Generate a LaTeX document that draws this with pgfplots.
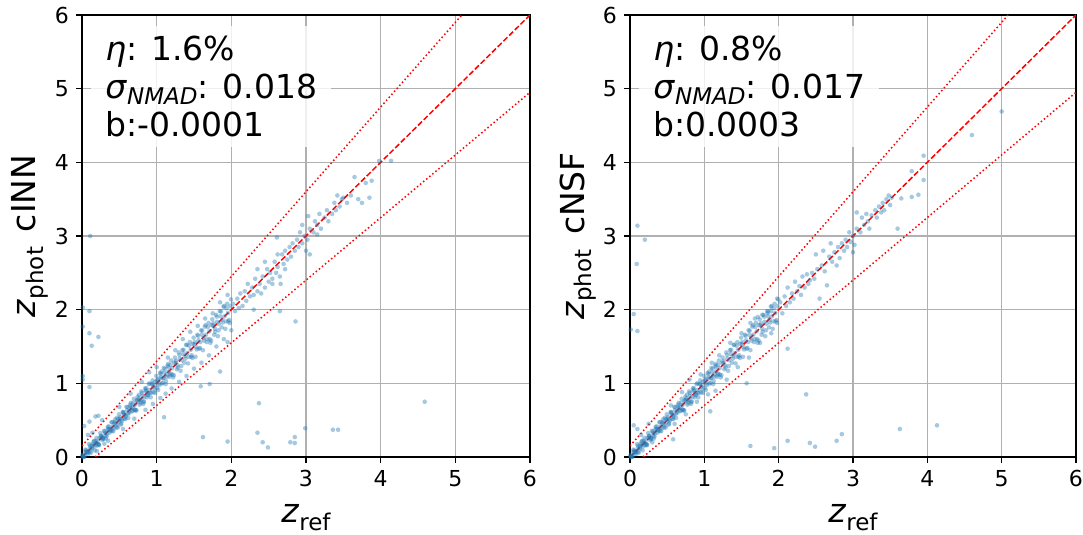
\documentclass[border=0pt]{standalone}
\usepackage{fontspec}
\setmainfont{DejaVu Sans}
\usepackage{pgfplots}
\usepackage{pgfplotstable}
\pgfplotsset{compat=1.18}

\definecolor{pts}{HTML}{1F77B4}
\definecolor{gridc}{HTML}{B0B0B0}

% ---------- shared dense core (both panels) ----------
\pgfplotstableread{
x y
0.01 0.03
0.035 0.005
0.06 0.07
0.085 0.075
0.11 0.155
0.135 0.11
0.16 0.16
0.185 0.22
0.21 0.16
0.235 0.26
0.26 0.285
0.285 0.245
0.31 0.325
0.335 0.32
0.36 0.415
0.385 0.355
0.41 0.41
0.435 0.475
0.46 0.40
0.485 0.515
0.51 0.54
0.535 0.49
0.56 0.575
0.585 0.57
0.61 0.675
0.635 0.60
0.66 0.66
0.685 0.735
0.71 0.64
0.735 0.77
0.76 0.795
0.785 0.73
0.81 0.83
0.835 0.815
0.86 0.935
0.885 0.845
0.91 0.91
0.935 0.99
0.96 0.88
0.985 1.025
1.01 1.05
1.035 0.975
1.06 1.08
1.085 1.065
1.11 1.195
1.135 1.09
1.16 1.16
1.185 1.25
1.21 1.12
1.235 1.28
1.26 1.305
1.285 1.215
1.31 1.335
1.335 1.315
1.36 1.455
1.385 1.335
1.41 1.41
1.435 1.51
1.46 1.36
1.485 1.535
1.51 1.56
1.535 1.46
1.56 1.585
1.585 1.56
1.61 1.715
1.635 1.58
1.66 1.66
1.685 1.765
1.71 1.60
1.735 1.79
1.76 1.815
1.785 1.70
1.81 1.835
1.835 1.81
1.86 1.975
1.885 1.825
1.91 1.91
1.935 2.02
1.96 1.84
1.985 2.045
}\coreA

\pgfplotstableread{
x y
0.02 0.00
0.045 0.10
0.07 0.055
0.095 0.175
0.12 0.06
0.145 0.18
0.17 0.09
0.195 0.26
0.22 0.175
0.245 0.325
0.27 0.23
0.295 0.355
0.32 0.25
0.345 0.41
0.37 0.33
0.395 0.47
0.42 0.35
0.445 0.51
0.47 0.43
0.495 0.58
0.52 0.44
0.545 0.61
0.57 0.52
0.595 0.68
0.62 0.53
0.645 0.71
0.67 0.62
0.695 0.79
0.72 0.63
0.745 0.82
0.77 0.71
0.795 0.89
0.82 0.72
0.845 0.93
0.87 0.81
0.895 0.99
0.92 0.81
0.945 1.04
0.97 0.92
0.995 1.10
1.02 0.91
1.045 1.14
1.07 1.00
1.095 1.21
1.12 0.99
1.145 1.24
1.17 1.09
1.195 1.31
1.22 1.08
1.245 1.35
1.27 1.19
1.295 1.42
1.32 1.17
1.345 1.45
1.37 1.28
1.395 1.52
1.42 1.27
1.445 1.56
1.47 1.38
1.495 1.62
1.52 1.36
1.545 1.66
1.57 1.47
1.595 1.72
1.62 1.45
1.645 1.77
1.67 1.56
1.695 1.82
1.72 1.55
1.745 1.87
1.77 1.66
1.795 1.93
1.82 1.64
1.845 1.98
1.87 1.76
1.895 2.04
1.92 1.74
1.945 2.08
1.97 1.86
1.995 2.14
}\coreB

\pgfplotstableread{
x y
0.005 0.015
0.03 0.015
0.055 0.09
0.08 0.04
0.105 0.125
0.13 0.125
0.155 0.21
0.18 0.145
0.205 0.205
0.23 0.16
0.255 0.27
0.28 0.26
0.305 0.35
0.33 0.28
0.355 0.38
0.38 0.37
0.405 0.475
0.43 0.39
0.455 0.455
0.48 0.40
0.505 0.52
0.53 0.51
0.555 0.61
0.58 0.515
0.605 0.635
0.63 0.62
0.655 0.735
0.68 0.63
0.705 0.705
0.73 0.635
0.755 0.775
0.78 0.755
0.805 0.87
0.83 0.755
0.855 0.89
0.88 0.87
0.905 1.00
0.93 0.87
0.955 0.955
0.98 0.87
1.005 1.025
1.03 1.00
1.055 1.125
1.08 1.00
1.105 1.145
1.13 1.12
1.155 1.265
1.18 1.115
1.205 1.205
1.23 1.11
1.255 1.28
1.28 1.245
1.305 1.385
1.33 1.235
1.355 1.40
1.38 1.37
1.405 1.525
1.43 1.36
1.455 1.455
1.48 1.345
1.505 1.53
1.53 1.49
1.555 1.645
1.58 1.48
1.605 1.66
1.63 1.615
1.655 1.79
1.68 1.60
1.705 1.705
1.73 1.58
1.755 1.785
1.78 1.74
1.805 1.905
1.83 1.72
1.855 1.91
1.88 1.865
1.905 2.05
1.93 1.84
1.955 1.955
1.98 1.82
}\coreC

\pgfplotstableread{
x y
0.015 0.00
0.045 0.07
0.075 0.075
0.105 0.065
0.135 0.15
0.165 0.22
0.195 0.185
0.225 0.17
0.255 0.29
0.285 0.25
0.315 0.29
0.345 0.38
0.375 0.375
0.405 0.355
0.435 0.455
0.465 0.53
0.495 0.48
0.525 0.455
0.555 0.60
0.585 0.545
0.615 0.585
0.645 0.685
0.675 0.675
0.705 0.645
0.735 0.76
0.765 0.845
0.795 0.775
0.825 0.745
0.855 0.91
0.885 0.84
0.915 0.875
0.945 0.995
0.975 0.975
1.005 0.935
1.035 1.065
1.065 1.16
1.095 1.075
1.125 1.03
1.155 1.22
1.185 1.13
}\coreD

% ---------- cINN (left) ----------
\pgfplotstableread{
x y
0.03 0.42
0.10 0.48
0.18 0.55
0.22 0.56
0.27 0.50
0.08 0.30
0.14 0.33
0.30 0.18
0.35 0.22
0.20 0.08
0.50 0.68
0.55 0.38
0.65 0.86
0.70 0.52
0.80 1.02
0.85 0.64
0.90 1.15
0.95 0.72
1.00 1.22
1.05 0.80
1.12 0.86
1.15 1.35
1.20 0.93
1.25 1.45
1.30 1.02
1.35 1.60
1.40 1.10
1.45 1.70
1.50 1.20
1.55 1.78
1.60 1.28
1.65 1.88
1.70 1.38
1.75 1.95
1.80 1.50
1.85 2.10
1.90 1.60
1.95 2.20
2.00 1.72
}\wideL

\pgfplotstableread{
x y
2.02 2.08
2.05 1.98
2.08 2.15
2.10 2.02
2.12 2.22
2.15 2.05
2.18 2.25
2.20 2.12
2.22 2.35
2.25 2.18
2.28 2.30
2.30 2.20
2.32 2.42
2.35 2.25
2.38 2.35
2.40 2.22
2.42 2.45
2.45 2.30
2.48 2.55
2.50 2.38
2.52 2.50
2.55 2.42
2.58 2.65
2.60 2.50
2.62 2.58
2.65 2.45
2.68 2.75
2.70 2.62
2.72 2.80
2.75 2.68
2.78 2.85
2.80 2.72
2.82 2.90
2.85 2.80
2.88 2.95
2.90 2.85
2.92 3.05
2.95 2.90
2.98 3.00
3.00 2.80
3.02 2.95
3.05 3.10
3.10 3.05
3.12 3.20
3.15 3.15
3.18 3.30
3.20 3.10
3.25 3.25
3.28 3.35
3.30 3.20
3.35 3.30
3.38 3.45
3.40 3.35
3.42 3.55
3.45 3.40
3.48 3.50
3.50 3.52
3.55 3.45
3.60 3.55
3.65 3.80
3.70 3.50
3.75 3.45
3.80 3.72
3.85 3.52
3.88 3.75
3.98 4.02
4.14 4.02
2.35 2.55
2.45 2.65
2.55 2.35
2.62 2.75
2.66 2.35
2.72 2.55
2.95 3.15
3.05 2.75
3.15 3.02
}\highL

\pgfplotstableread{
x y
0.11 3.00
0.01 2.03
0.10 1.98
0.01 1.77
0.10 1.68
0.22 1.63
0.13 1.51
0.01 1.10
0.01 1.05
0.10 0.95
2.37 0.73
1.62 0.27
1.95 0.21
2.35 0.33
2.42 0.20
2.49 0.13
2.79 0.20
2.85 0.27
2.85 0.19
2.99 0.39
3.36 0.37
3.43 0.37
4.59 0.75
2.86 1.84
2.61 2.98
3.03 3.27
1.10 0.54
1.59 0.96
1.71 0.99
1.85 1.16
1.95 1.56
2.30 2.00
2.65 1.98
}\outL

% ---------- cNSF (right) ----------
\pgfplotstableread{
x y
0.05 0.43
0.10 0.38
0.15 0.30
0.25 0.45
0.30 0.20
0.55 0.70
0.60 0.45
0.70 0.88
0.75 0.58
0.80 1.05
0.90 0.75
0.95 1.12
1.05 0.85
1.10 1.28
1.15 0.90
1.20 1.38
1.30 1.05
1.35 1.55
1.45 1.22
1.50 1.68
1.60 1.35
1.62 1.82
1.68 1.88
1.72 1.90
1.78 1.93
1.85 1.95
1.90 1.98
1.75 1.55
1.90 1.68
1.98 2.15
}\wideR

\pgfplotstableread{
x y
2.02 2.10
2.05 1.95
2.08 2.18
2.10 2.05
2.12 2.30
2.15 2.10
2.18 2.22
2.20 2.15
2.22 2.38
2.25 2.25
2.28 2.32
2.30 2.20
2.32 2.45
2.35 2.30
2.38 2.48
2.40 2.35
2.42 2.40
2.45 2.50
2.48 2.42
2.50 2.75
2.52 2.55
2.55 2.15
2.58 2.60
2.60 2.80
2.62 2.52
2.65 2.33
2.68 2.72
2.70 2.90
2.72 2.65
2.75 2.78
2.78 2.60
2.80 2.85
2.82 2.70
2.85 2.90
2.88 2.80
2.90 2.95
2.92 2.85
2.95 3.05
2.97 2.92
3.00 2.78
3.00 3.00
3.02 2.88
3.05 3.10
3.10 3.05
3.12 3.25
3.15 3.15
3.18 3.30
3.20 3.20
3.22 3.10
3.25 3.28
3.30 3.35
3.32 3.25
3.35 3.40
3.38 3.32
3.40 3.45
3.42 3.35
3.45 3.50
3.48 3.55
3.50 3.42
3.52 3.52
3.60 3.10
}\highR

\pgfplotstableread{
x y
0.10 3.14
0.20 2.95
0.09 2.62
0.05 1.94
0.01 1.73
0.10 1.71
2.37 0.85
1.62 0.15
1.94 0.12
2.12 0.22
2.42 0.19
2.49 0.14
2.78 0.22
2.85 0.31
3.63 0.38
4.13 0.43
4.60 4.37
5.00 4.69
3.95 4.09
3.95 3.76
3.79 3.88
3.79 3.53
3.88 3.56
3.65 3.51
2.12 1.47
1.08 0.62
1.57 1.00
0.58 0.24
3.05 3.32
}\outR

\newcommand{\bigfont}{\fontsize{16.5}{19}\selectfont}
\newcommand{\subfont}{\fontsize{11.5}{12}\selectfont}

\pgfplotsset{
  panel/.style={
    scale only axis, height=221pt,
    xmin=0, xmax=6, ymin=0, ymax=6,
    xtick={0,1,2,3,4,5,6}, ytick={0,1,2,3,4,5,6},
    grid=major, grid style={gridc, line width=0.7pt},
    tick align=outside, tick pos=left,
    major tick length=3pt,
    tick style={black, line width=0.6pt},
    axis line style={black, line width=0.8pt},
    ticklabel style={font=\fontsize{11}{13}\selectfont},
    /pgf/number format/assume math mode=true,
    every axis y label/.style={at={(axis description cs:-0.116,0.5)}, rotate=90, anchor=center, font=\bigfont},
    every axis x label/.style={at={(axis description cs:0.5,0)}, yshift=-33pt, anchor=base, font=\bigfont},
    xlabel={\textit{z}\raisebox{-3.7pt}{\subfont ref}},
  },
  pts/.style={only marks, mark=*, mark size=1.15pt,
    mark options={fill=pts, fill opacity=0.4, draw opacity=0}},
  diag/.style={red, line width=0.75pt, dash pattern=on 2.8pt off 1.2pt},
  dots/.style={red, line width=0.75pt, dash pattern=on 0.75pt off 1.25pt},
}

\begin{document}
\begin{tikzpicture}
\useasboundingbox (0,0) rectangle (541.5pt,267.5pt);

\begin{axis}[panel, width=224pt, at={(41pt,39pt)}, anchor=south west,
  ylabel={\textit{z}\raisebox{-3.7pt}{\subfont phot}\hspace{0.45em}cINN}]
  \addplot[pts] table {\coreA};
  \addplot[pts] table {\coreB};
  \addplot[pts] table {\coreC};
  \addplot[pts] table {\coreD};
  \addplot[pts] table {\wideL};
  \addplot[pts] table {\highL};
  \addplot[pts] table {\outL};
  \addplot[diag] coordinates {(0,0) (6,6)};
  \addplot[dots] coordinates {(0,0.15) (5.087,6)};
  \addplot[dots] coordinates {(0.1765,0) (6,4.95)};
  \node[anchor=north west, fill=white, fill opacity=0.8, text opacity=1,
        align=left, inner xsep=7pt, inner ysep=5pt, font=\bigfont]
    at (axis cs:0.12,5.86)
    {\textit{η}: 1.6\%\\
     \textit{σ}\raisebox{-3pt}{\subfont\itshape NMAD}: 0.018\\
     b:-0.0001};
\end{axis}

\begin{axis}[panel, width=223pt, at={(315pt,39pt)}, anchor=south west,
  ylabel={\textit{z}\raisebox{-3.7pt}{\subfont phot}\hspace{0.45em}cNSF}]
  \addplot[pts] table {\coreA};
  \addplot[pts] table {\coreB};
  \addplot[pts] table {\coreC};
  \addplot[pts] table {\coreD};
  \addplot[pts] table {\wideR};
  \addplot[pts] table {\highR};
  \addplot[pts] table {\outR};
  \addplot[diag] coordinates {(0,0) (6,6)};
  \addplot[dots] coordinates {(0,0.15) (5.087,6)};
  \addplot[dots] coordinates {(0.1765,0) (6,4.95)};
  \node[anchor=north west, fill=white, fill opacity=0.8, text opacity=1,
        align=left, inner xsep=7pt, inner ysep=5pt, font=\bigfont]
    at (axis cs:0.12,5.86)
    {\textit{η}: 0.8\%\\
     \textit{σ}\raisebox{-3pt}{\subfont\itshape NMAD}: 0.017\\
     b:0.0003};
\end{axis}
\end{tikzpicture}
\end{document}
